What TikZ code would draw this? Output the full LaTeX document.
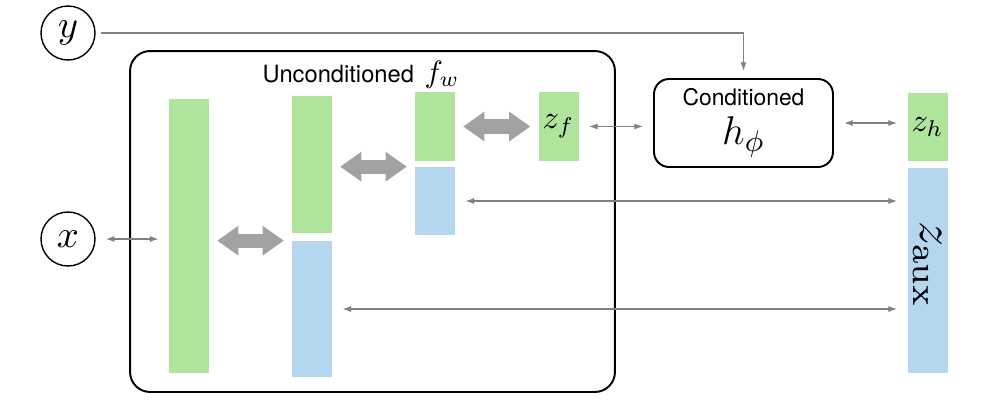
\documentclass[tikz,border=0pt]{standalone}
\usepackage{graphicx}
\usepackage{fontspec}
\setsansfont{TeX Gyre Heros}
\usetikzlibrary{arrows.meta}
\definecolor{layergreen}{RGB}{174,228,156}
\definecolor{layerblue}{RGB}{180,214,238}
\definecolor{linkgray}{RGB}{128,128,128}
\definecolor{flowgray}{RGB}{162,162,162}
\tikzset{
  var/.style={circle,draw,line width=0.8pt,minimum size=1.08cm,inner sep=0pt},
  gbar/.style={fill=layergreen,minimum width=0.8cm,inner sep=0pt},
  bbar/.style={fill=layerblue,minimum width=0.8cm,inner sep=0pt},
  frame/.style={draw,line width=1.1pt,inner sep=0pt},
  link/.style={linkgray,line width=0.8pt,{Latex[length=5pt,width=3.5pt]}-{Latex[length=5pt,width=3.5pt]},shorten <=0.2cm,shorten >=0.2cm},
  flow/.style={flowgray,line width=8pt,{Triangle[length=12pt,width=17pt,line width=0pt]}-{Triangle[length=12pt,width=17pt,line width=0pt]},shorten <=0.16cm,shorten >=0.16cm}
}

\begin{document}
\begin{tikzpicture}[x=0.02cm,y=-0.02cm]
\useasboundingbox (0,0) rectangle (1000,400);
\node[var] (y) at (68,33) {\scalebox{2.2}{$y$}};
\node[var] (x) at (68,239) {\scalebox{2.2}{$x$}};
\node[frame,rounded corners=0.4cm,minimum width=9.7cm,minimum height=6.82cm] (uncond) at (372.5,221.5) {};
\node[anchor=base] (ulabel) at (361,82) {{\fontsize{13.5}{15}\selectfont\sffamily Unconditioned}\hspace{6pt}\scalebox{1.75}{$f_w$}};

\node[gbar,minimum height=5.48cm] (l1) at (189,236) {};
\node[gbar,minimum height=2.74cm] (l2g) at (312,164.5) {};
\node[bbar,minimum height=2.72cm] (l2b) at (312,309) {};
\node[gbar,minimum height=1.38cm] (l3g) at (435,126.5) {};
\node[bbar,minimum height=1.36cm] (l3b) at (435,201) {};
\node[gbar,minimum height=1.38cm] (zf) at (558.5,126.5) {\scalebox{1.85}{$z_f$}};

\node[frame,rounded corners=0.3cm,minimum width=3.58cm,minimum height=1.76cm,align=center,font=\fontsize{13}{22}\selectfont] (cond) at (743.5,123) {\sffamily Conditioned\\\scalebox{1.9}{$h_\phi$}};

\node[gbar,minimum height=1.36cm] (zh) at (927.5,127) {\scalebox{1.85}{$z_h$}};
\node[bbar,minimum height=4.1cm] (zaux) at (927.5,270.5) {};
\node[rotate=-90] (zauxlabel) at (927.5,265) {\scalebox{2.8}{$z_{\mathrm{aux}}$}};

\draw[flow] (l1.east |- l2b.north) -- (l2g.west |- l2b.north);
\draw[flow] (l2g.east |- l3b.north) -- (l3g.west |- l3b.north);
\draw[flow] (l3g.east) -- (zf.west);

\draw[link] (x) -- (l1.west |- x);
\draw[link] (zf) -- (cond.west |- zf);
\draw[link] (cond) -- (zh.west |- cond);
\draw[link] (l3b) -- (zaux.west |- l3b);
\draw[link] (l2b) -- (zaux.west |- l2b);
\draw[linkgray,line width=0.8pt,-{Latex[length=5pt,width=3.5pt]},shorten <=0.1cm,shorten >=0.14cm] (y) -| (cond);
\end{tikzpicture}
\end{document}
